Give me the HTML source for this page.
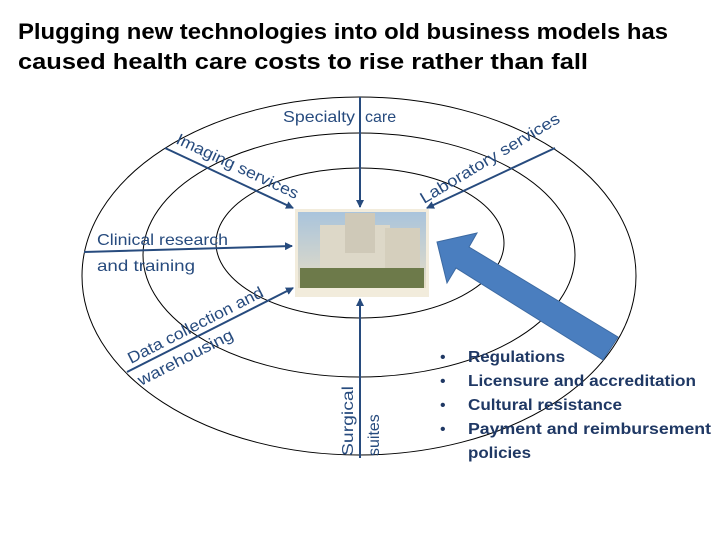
<!DOCTYPE html>
<html><head><style>
body{margin:0;width:720px;height:540px;background:#fff;overflow:hidden;font-family:"Liberation Sans",sans-serif}
</style></head><body>
<svg width="720" height="540" xmlns="http://www.w3.org/2000/svg">
<defs>
<marker id="a" markerWidth="8" markerHeight="8" refX="7" refY="4" orient="auto" markerUnits="userSpaceOnUse"><path d="M0,0 L8,4 L0,8 z" fill="#274b7e"/></marker>
<linearGradient id="sky" x1="0" y1="0" x2="0" y2="1"><stop offset="0" stop-color="#a9c4dc"/><stop offset="1" stop-color="#e6ddc6"/></linearGradient>
</defs>
<text x="18" y="39" font-size="22" font-weight="bold" fill="#000" textLength="650" lengthAdjust="spacingAndGlyphs">Plugging new technologies into old business models has</text>
<text x="18" y="69" font-size="22" font-weight="bold" fill="#000" textLength="570" lengthAdjust="spacingAndGlyphs">caused health care costs to rise rather than fall</text>
<g fill="none" stroke="#000" stroke-width="1">
<ellipse cx="359" cy="276" rx="277" ry="179"/>
<ellipse cx="359" cy="255" rx="216" ry="122"/>
<ellipse cx="360" cy="243" rx="144" ry="75"/>
</g>
<rect x="295" y="209" width="134" height="88" fill="#f2ecdc"/>
<rect x="298" y="212" width="128" height="76" fill="url(#sky)"/>
<rect x="320" y="225" width="70" height="55" fill="#ddd8c8"/>
<rect x="345" y="213" width="30" height="40" fill="#cfc9b8"/>
<rect x="385" y="228" width="35" height="50" fill="#d5cfbd"/>
<rect x="300" y="268" width="124" height="20" fill="#6d7a4a"/>
<g stroke="#274b7e" stroke-width="2" fill="none">
<line x1="360" y1="97" x2="360" y2="207" marker-end="url(#a)"/>
<line x1="165" y1="148" x2="293" y2="208" marker-end="url(#a)"/>
<line x1="555" y1="148" x2="427" y2="208" marker-end="url(#a)"/>
<line x1="84" y1="252" x2="292" y2="246" marker-end="url(#a)"/>
<line x1="127" y1="372" x2="293" y2="288" marker-end="url(#a)"/>
<line x1="360" y1="458" x2="360" y2="299" marker-end="url(#a)"/>
</g>
<polygon points="437,242 477,233 469,247 618,337 603,360 456,268 447,283" fill="#4a7ebf" stroke="#3d6aa2" stroke-width="1"/>
<g fill="#274b7e" font-size="16">
<text x="283" y="122" textLength="72" lengthAdjust="spacingAndGlyphs">Specialty</text><text x="365" y="122">care</text>
<text transform="translate(175,143) rotate(25)" textLength="133" lengthAdjust="spacingAndGlyphs">Imaging services</text>
<text transform="translate(424,204) rotate(-31)" textLength="160" lengthAdjust="spacingAndGlyphs">Laboratory services</text>
<text x="97" y="245" textLength="131" lengthAdjust="spacingAndGlyphs">Clinical research</text>
<text x="97" y="271" textLength="98" lengthAdjust="spacingAndGlyphs">and training</text>
<text transform="translate(131,364) rotate(-27)" textLength="150" lengthAdjust="spacingAndGlyphs">Data collection and</text>
<text transform="translate(141,386) rotate(-27)" textLength="105" lengthAdjust="spacingAndGlyphs">warehousing</text>
<text transform="translate(353,456) rotate(-90)" textLength="70" lengthAdjust="spacingAndGlyphs">Surgical</text>
<text transform="translate(379,456) rotate(-90)">suites</text>
</g>
<g fill="#1f3864" font-size="16" font-weight="bold">
<text x="440" y="362" font-weight="normal">•</text><text x="468" y="362" textLength="97" lengthAdjust="spacingAndGlyphs">Regulations</text>
<text x="440" y="386" font-weight="normal">•</text><text x="468" y="386" textLength="228" lengthAdjust="spacingAndGlyphs">Licensure and accreditation</text>
<text x="440" y="410" font-weight="normal">•</text><text x="468" y="410" textLength="154" lengthAdjust="spacingAndGlyphs">Cultural resistance</text>
<text x="440" y="434" font-weight="normal">•</text><text x="468" y="434" textLength="243" lengthAdjust="spacingAndGlyphs">Payment and reimbursement</text>
<text x="468" y="458" textLength="63" lengthAdjust="spacingAndGlyphs">policies</text>
</g>
</svg>
</body></html>
